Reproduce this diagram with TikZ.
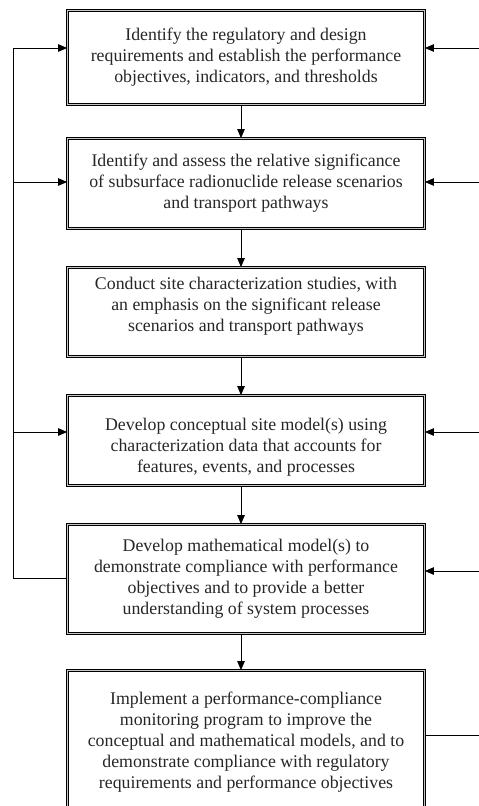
\documentclass[tikz,border=0pt]{standalone}
\usepackage{fontspec}
\setmainfont{Liberation Serif}
\usetikzlibrary{arrows.meta}
\begin{document}
\begin{tikzpicture}[x=1pt,y=-1pt,
  box/.style={draw=black, line width=0.8pt, double=gray!45, double distance=1.5pt,
    minimum width=357pt, inner sep=0pt, align=center, text=black!85,
    font=\fontsize{17.8}{21}\selectfont},
  conn/.style={line width=1pt, -{Triangle[length=9pt,width=7.5pt]}},
  plain/.style={line width=1pt}]
\useasboundingbox (0,0) rectangle (479,806);
\node[box, minimum height=94pt] (b1) at (246,57.5)
  {Identify the regulatory and design\\requirements and establish the performance\\objectives, indicators, and thresholds};
\node[box, minimum height=90pt] (b2) at (246,183.5)
  {Identify and assess the relative significance\\of subsurface radionuclide release scenarios\\and transport pathways};
\node[box, minimum height=89pt] (b3) at (246,312)
  {Conduct site characterization studies, with\\an emphasis on the significant release\\scenarios and transport pathways\rule[-16pt]{0pt}{1pt}};
\node[box, minimum height=90pt] (b4) at (246,440.5)
  {\rule{0pt}{26pt}Develop conceptual site model(s) using\\characterization data that accounts for\\features, events, and processes};
\node[box, minimum height=109pt] (b5) at (246,579)
  {Develop mathematical model(s) to\\demonstrate compliance with performance\\objectives and to provide a better\\understanding of system processes};
\node[box, minimum height=143pt] (b6) at (246,742)
  {Implement a performance-compliance\\monitoring program to improve the\\conceptual and mathematical models, and to\\demonstrate compliance with regulatory\\requirements and performance objectives};
% down arrows
\foreach \a/\b in {b1/b2,b2/b3,b3/b4,b4/b5,b5/b6}
  \draw[conn] ([xshift=-5pt]\a.south) -- ([xshift=-5pt]\b.north);
% left feedback loop
\coordinate (Lbot) at (13,578);
\coordinate (Ltop) at (13,48);
\coordinate (L2) at (13,182);
\coordinate (L4) at (13,432);
\draw[plain] (b5.west |- Lbot) -- (Lbot) -- (Ltop);
\draw[conn] (Ltop) -- (b1.west |- Ltop);
\draw[conn] (L2) -- (b2.west |- L2);
\draw[conn] (L4) -- (b4.west |- L4);
% right inputs
\coordinate (R1) at (479,48);
\coordinate (R2) at (479,182);
\coordinate (R4) at (479,432);
\coordinate (R5) at (479,571);
\coordinate (R6) at (479,735);
\draw[conn] (R1) -- (b1.east |- R1);
\draw[conn] (R2) -- (b2.east |- R2);
\draw[conn] (R4) -- (b4.east |- R4);
\draw[conn] (R5) -- (b5.east |- R5);
\draw[plain] (b6.east |- R6) -- (R6);
\end{tikzpicture}
\end{document}
